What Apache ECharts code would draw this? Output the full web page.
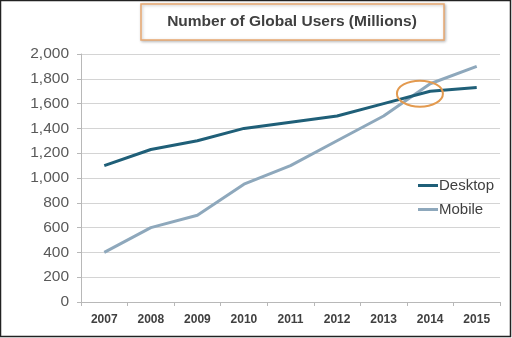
<!DOCTYPE html>
<html><head><meta charset="utf-8">
<script src="https://cdn.jsdelivr.net/npm/echarts@6/dist/echarts.min.js"></script>
<style>html,body{margin:0;padding:0;background:#fff}#c{width:512px;height:338px}</style>
</head><body><div id="c"></div>
<script>
var years = ['2007','2008','2009','2010','2011','2012','2013','2014','2015'];
var desktop = [1100,1230,1300,1400,1450,1500,1600,1700,1730];
var mobile = [400,600,700,950,1100,1300,1500,1760,1900];
var titleText = 'Number of Global Users (Millions)';

var chart = echarts.init(document.getElementById('c'), null, {renderer:'canvas'});
var font = 'Helvetica, "Liberation Sans", Arial, sans-serif';
chart.setOption({
  animation:false,
  backgroundColor:'#fff',
  grid:{left:81,right:12,top:54,bottom:36,containLabel:false},
  legend:{
    orient:'vertical', left:413, top:173, itemGap:9, itemWidth:20, itemHeight:3,
    icon:'rect',
    textStyle:{color:'#404040',fontSize:15,fontFamily:font,padding:[0,0,0,-4]},
    data:['Desktop','Mobile']
  },
  xAxis:{
    type:'category', data:years, boundaryGap:true,
    axisLine:{lineStyle:{color:'#b8b8b8'}},
    axisTick:{show:true,length:4,lineStyle:{color:'#b8b8b8'}},
    axisLabel:{color:'#404040',fontWeight:'bold',fontSize:12,fontFamily:font,margin:12}
  },
  yAxis:{
    type:'value', min:0, max:2000, interval:200,
    axisLine:{show:true,lineStyle:{color:'#b8b8b8'}},
    axisTick:{show:true,length:4,lineStyle:{color:'#b8b8b8'}},
    splitLine:{lineStyle:{color:'#d4d4d4'}},
    axisLabel:{color:'#595959',fontSize:15.5,fontFamily:font,margin:12,
      formatter:function(v){return v.toLocaleString('en-US');}}
  },
  series:[
    {name:'Desktop',type:'line',data:desktop,showSymbol:false,symbol:'none',
     lineStyle:{color:'#1f5f78',width:3},itemStyle:{color:'#1f5f78'},z:3},
    {name:'Mobile',type:'line',data:mobile,showSymbol:false,symbol:'none',
     lineStyle:{color:'#8ea8bc',width:3},itemStyle:{color:'#8ea8bc'},z:2}
  ]
});

// annotation ellipse around crossing point, placed via axis conversion
var p13 = chart.convertToPixel({seriesIndex:0},[6,1680]);
var p14 = chart.convertToPixel({seriesIndex:0},[7,1680]);
var cx = p13[0] + (p14[0]-p13[0])*0.78;
var cy = p13[1];
chart.setOption({
  graphic:[
    {type:'rect',shape:{x:0.5,y:0.5,width:510,height:336},style:{fill:'none',stroke:'#222',lineWidth:1.5},z:100},
    {type:'rect',shape:{x:141,y:4,width:303,height:36},
     style:{fill:'#fff',stroke:'#e8a870',lineWidth:1.5,shadowBlur:3,shadowColor:'rgba(0,0,0,0.25)',shadowOffsetX:1,shadowOffsetY:1},z:50},
    {type:'text',x:292,y:22,style:{text:titleText,fill:'#404040',font:'bold 15.5px '+font,textAlign:'center',textVerticalAlign:'middle'},z:51},
    {type:'ellipse',shape:{cx:cx,cy:cy,rx:23,ry:13},style:{fill:'none',stroke:'#e39a4f',lineWidth:2},z:60}
  ]
});
</script></body></html>
